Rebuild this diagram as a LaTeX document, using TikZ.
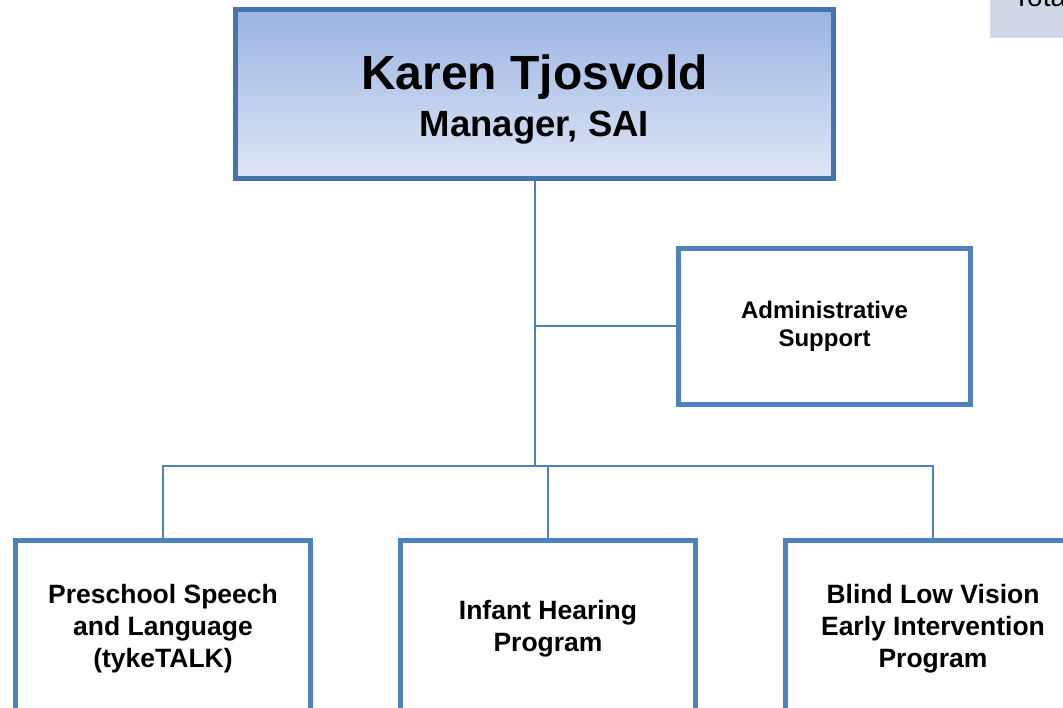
\documentclass[tikz,border=0pt]{standalone}
\usepackage{fontspec}
\setmainfont{Liberation Sans}
\usepackage{tikz}
\usetikzlibrary{positioning}
\usepackage{xcolor}
\definecolor{orgline}{HTML}{4F81BD}
\definecolor{orgdark}{HTML}{4774AB}
\definecolor{orgtop}{HTML}{9AB4E2}
\definecolor{orgbot}{HTML}{DFE6F5}
\definecolor{orggrey}{HTML}{D0D8E8}

\begin{document}
\begin{tikzpicture}[x=1pt, y=-1pt,
  lead/.style={draw=orgdark, line width=5pt, top color=orgtop, bottom color=orgbot,
    minimum width=598pt, minimum height=169pt, inner sep=0pt, align=center,
    text height=86pt, text depth=0pt, font=\fontsize{36.5}{47}\selectfont\bfseries},
  unit/.style={draw=orgline, line width=4.5pt, fill=white, minimum width=295pt,
    minimum height=177pt, inner sep=0pt, align=center,
    font=\fontsize{26.5}{32}\selectfont\bfseries},
  aide/.style={unit, minimum width=292pt, minimum height=156pt,
    font=\fontsize{24}{28.5}\selectfont\bfseries},
  link/.style={draw=orgline, line width=2pt}]
\useasboundingbox (0,0) rectangle (1063,708);
\clip (0,0) rectangle (1063,708);

% corner tab
\fill[orggrey] (990,-40) rectangle (1070,38);
\node[anchor=base west, inner sep=0pt, font=\fontsize{28}{28}\selectfont] (tab) at (1013,7) {Total};

% boxes
\node[lead] (boss) at (534.5,94) {{\fontsize{48}{47}\selectfont Karen Tjosvold}\\Manager, SAI};
\node[aide] (admin) at (824.5,326.5) {Administrative\\Support};
\node[unit] (speech) at (163,629) {Preschool Speech\\and Language\\(tykeTALK)};
\node[unit] (hearing) at (548,629) {Infant Hearing\\Program};
\node[unit] (vision) at (933,629) {Blind Low Vision\\Early Intervention\\Program};

% lines
\coordinate (bus) at (boss.south |- 0,466);
\draw[link] (boss.south) -- (bus);
\draw[link] (boss.south |- admin.west) -- (admin.west);
\draw[link] (speech.north) |- (bus) -| (vision.north);
\draw[link] (hearing.north) -- (hearing.north |- bus);
\end{tikzpicture}
\end{document}
